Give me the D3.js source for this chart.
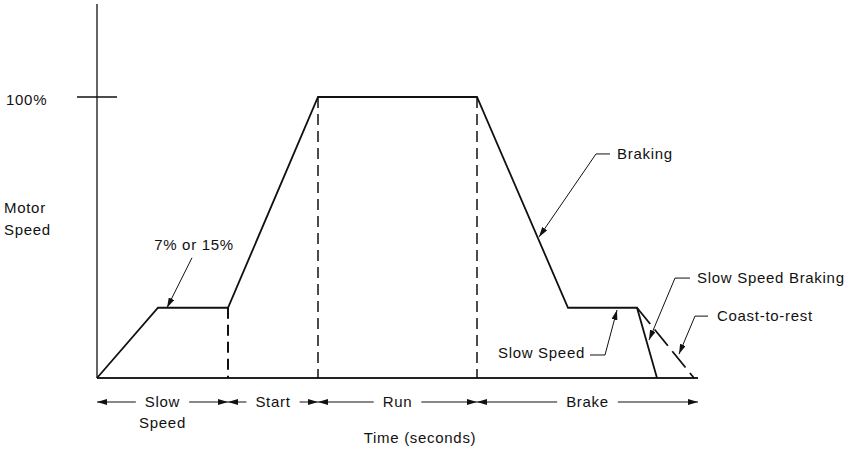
<!DOCTYPE html>
<html>
<head>
<meta charset="utf-8">
<script src="https://cdn.jsdelivr.net/npm/d3@7/dist/d3.min.js"></script>
<style>
  body { margin: 0; background: #fff; }
  text { font-family: "Liberation Sans", Arial, Helvetica, sans-serif; font-size: 15px; letter-spacing: 0.7px; fill: #111; }
</style>
</head>
<body>
<div id="chart"></div>
<script>
// speed profile (time in arbitrary seconds, speed in % of full speed)
var profileTime  = [0, 6.1, 13.1, 22.1, 38.0, 47.1, 54.0, 56.0];
var profileSpeed = [0, 25, 25, 100, 100, 25, 25, 0];

// coast-to-rest alternative
var coastTime  = [54.0, 59.7];
var coastSpeed = [25, 0];

// dashed phase markers
var markerTime  = [13.1, 22.1, 38.0];
var markerSpeed = [25, 100, 100];

// phases along the time axis
var phaseNames  = [["Slow", "Speed"], ["Start"], ["Run"], ["Brake"]];
var phaseBounds = [0, 13.1, 22.1, 38.0, 60.1];

// callouts: label text and where the arrow points
var calloutText  = ["7% or 15%", "Braking", "Slow Speed", "Slow Speed Braking", "Coast-to-rest"];
var calloutTime  = [7.0, 44.2, 52.0, 55.2, 58.2];
var calloutSpeed = [25, 50.2, 24.2, 13.5, 8.5];

var tickSpeed = [100];

function draw() {
  var svgWidth = 847, svgHeight = 458;
  var svg = d3.select("#chart").append("svg")
    .attr("width", svgWidth)
    .attr("height", svgHeight);

  var x = d3.scaleLinear().domain([0, 60]).range([97, 697]);
  var y = d3.scaleLinear().domain([0, 100]).range([378, 97]);

  svg.append("defs").append("marker")
    .attr("id", "head")
    .attr("viewBox", "0 0 10 6")
    .attr("refX", 10).attr("refY", 3)
    .attr("markerWidth", 10).attr("markerHeight", 6)
    .attr("markerUnits", "userSpaceOnUse")
    .attr("orient", "auto")
    .append("path").attr("d", "M0,0L10,3L0,6Z").attr("fill", "#111");

  // axes
  svg.append("line")
    .attr("x1", x(0)).attr("x2", x(0))
    .attr("y1", 4).attr("y2", y(0))
    .attr("stroke", "#111").attr("stroke-width", 1.3);
  svg.append("line")
    .attr("x1", x(0)).attr("x2", x(60.1))
    .attr("y1", y(0)).attr("y2", y(0))
    .attr("stroke", "#222").attr("stroke-width", 2);

  tickSpeed.forEach(function(s) {
    svg.append("line")
      .attr("x1", x(0) - 20).attr("x2", x(0) + 20)
      .attr("y1", y(s)).attr("y2", y(s))
      .attr("stroke", "#111").attr("stroke-width", 1.3);
    svg.append("text")
      .attr("x", 6).attr("y", y(s) + 8)
      .text(s + "%");
  });

  svg.append("text").attr("x", 4).attr("y", 213).text("Motor");
  svg.append("text").attr("x", 4).attr("y", 235).text("Speed");

  // dashed phase markers
  markerTime.forEach(function(t, i) {
    svg.append("line")
      .attr("x1", x(t)).attr("x2", x(t))
      .attr("y1", y(markerSpeed[i])).attr("y2", y(0))
      .attr("stroke", "#111")
      .attr("stroke-width", i === 0 ? 2 : 1.5)
      .attr("stroke-dasharray", "11,6");
  });

  var line = d3.line()
    .x(function(d) { return x(d[0]); })
    .y(function(d) { return y(d[1]); });

  svg.append("path")
    .attr("d", line(d3.zip(profileTime, profileSpeed)))
    .attr("fill", "none").attr("stroke", "#111")
    .attr("stroke-width", 1.8).attr("stroke-linejoin", "miter");

  svg.append("path")
    .attr("d", line(d3.zip(coastTime, coastSpeed)))
    .attr("fill", "none").attr("stroke", "#111")
    .attr("stroke-width", 1.8).attr("stroke-dasharray", "21,7");

  // callouts - layout offsets from the arrow tip: elbow, shelf, label anchor
  var layout = [
    { ex: 25, ey: -50, shelf: 0, anchor: "middle", tx: 27, ty: -58 },
    { ex: 57, ey: -83, shelf: 14, anchor: "start", tx: 78, ty: -78 },
    { ex: -12, ey: 45, shelf: -15, anchor: "end", tx: -32, ty: 48 },
    { ex: 26, ey: -62, shelf: 15, anchor: "start", tx: 48, ty: -57 },
    { ex: 16, ey: -38, shelf: 13, anchor: "start", tx: 38, ty: -33 }
  ];

  calloutText.forEach(function(label, i) {
    var tx = x(calloutTime[i]), ty = y(calloutSpeed[i]);
    var L = layout[i];
    var ex = tx + L.ex, ey = ty + L.ey;
    svg.append("line")
      .attr("x1", ex).attr("y1", ey)
      .attr("x2", tx).attr("y2", ty)
      .attr("stroke", "#111").attr("stroke-width", 1)
      .attr("marker-end", "url(#head)");
    if (L.shelf !== 0) {
      svg.append("line")
        .attr("x1", ex).attr("y1", ey)
        .attr("x2", ex + L.shelf).attr("y2", ey)
        .attr("stroke", "#111").attr("stroke-width", 1);
    }
    svg.append("text")
      .attr("x", tx + L.tx).attr("y", ty + L.ty)
      .attr("text-anchor", L.anchor)
      .text(label);
  });

  // phase arrows along the bottom
  var rowY = 402, gap = 9;
  phaseNames.forEach(function(name, i) {
    var x0 = x(phaseBounds[i]), x1 = x(phaseBounds[i + 1]);
    var mid = (x0 + x1) / 2;
    var t = svg.append("text")
      .attr("x", mid).attr("y", rowY + 5)
      .attr("text-anchor", "middle")
      .text(name[0]);
    var w = t.node().getComputedTextLength();
    if (name[1]) {
      svg.append("text")
        .attr("x", mid).attr("y", rowY + 26)
        .attr("text-anchor", "middle")
        .text(name[1]);
    }
    svg.append("line")
      .attr("x1", mid - w / 2 - gap).attr("x2", x0)
      .attr("y1", rowY).attr("y2", rowY)
      .attr("stroke", "#111").attr("stroke-width", 1)
      .attr("marker-end", "url(#head)");
    svg.append("line")
      .attr("x1", mid + w / 2 + gap).attr("x2", x1)
      .attr("y1", rowY).attr("y2", rowY)
      .attr("stroke", "#111").attr("stroke-width", 1)
      .attr("marker-end", "url(#head)");
  });

  svg.append("text")
    .attr("x", 420).attr("y", 443)
    .attr("text-anchor", "middle")
    .text("Time (seconds)");
}

draw();
</script>
</body>
</html>
